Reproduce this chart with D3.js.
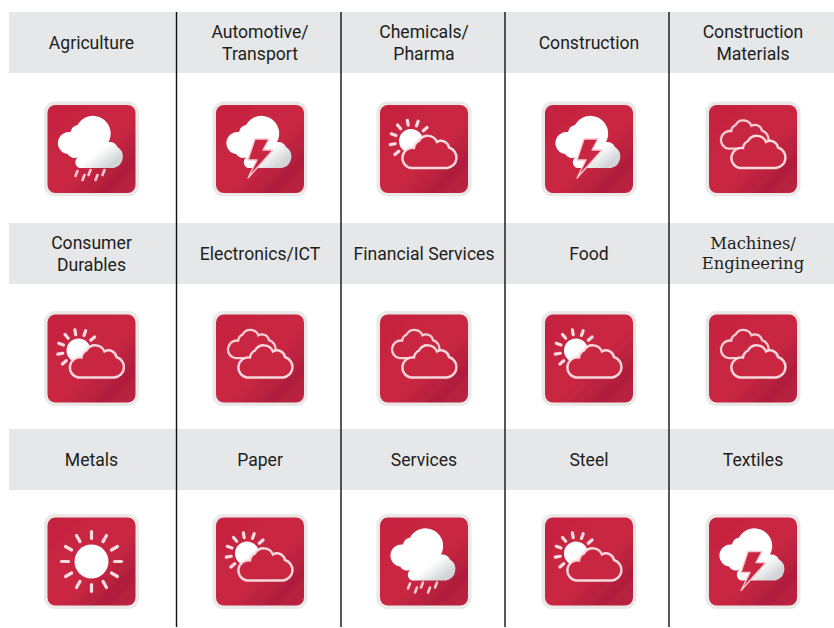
<!DOCTYPE html>
<html lang="en">
<head>
    <meta charset="UTF-8">
    <script src="https://d3js.org/d3.v7.min.js"></script>
    <style>
        html, body { margin: 0; background: #fff; }
        svg { display: block; }
        .label { font-family: Roboto, "Noto Sans", sans-serif; font-size: 17.6px; fill: #1d1d1b; text-anchor: middle; }
        .label.slab { font-family: "DejaVu Serif", serif; font-size: 16.4px; }
    </style>
</head>
<body>
    <svg id="chart"></svg>
    <script>
        // 15 sectors, row by row
        const sectors = [
            "Agriculture", "Automotive/\nTransport", "Chemicals/\nPharma", "Construction", "Construction\nMaterials",
            "Consumer\nDurables", "Electronics/ICT", "Financial Services", "Food", "Machines/\nEngineering",
            "Metals", "Paper", "Services", "Steel", "Textiles"
        ];
        const weather = [
            "rain", "storm", "partly", "storm", "cloudy",
            "partly", "cloudy", "cloudy", "partly", "cloudy",
            "sunny", "partly", "rain", "partly", "storm"
        ];
        const rows = [0, 1, 2];
        const cols = [0, 1, 2, 3, 4];

        const width = 834, height = 628;
        const svg = d3.select("#chart").attr("width", width).attr("height", height);

        // grid scales
        const bandY = d3.scaleOrdinal().domain(rows).range([12, 223, 429]);
        const iconY = d3.scaleOrdinal().domain(rows).range([149, 358.5, 561.5]);
        const iconX = d3.scaleOrdinal().domain(cols).range([91.5, 260, 424, 589, 753]);
        const sepX = d3.scaleOrdinal().domain(cols).range([9, 176.5, 341, 505, 669]);
        const bandH = 61;

        const defs = svg.append("defs");
        const grad = defs.append("linearGradient").attr("id", "red")
            .attr("x1", 0).attr("y1", 0).attr("x2", 1).attr("y2", 1);
        grad.append("stop").attr("offset", "0").attr("stop-color", "#c4223f");
        grad.append("stop").attr("offset", "0.55").attr("stop-color", "#ca2843");
        grad.append("stop").attr("offset", "0.8").attr("stop-color", "#b01e3c");
        grad.append("stop").attr("offset", "1").attr("stop-color", "#bd2442");
        const cloudGrad = defs.append("linearGradient").attr("id", "cloudFill")
            .attr("x1", 0.3).attr("y1", 0.2).attr("x2", 0.9).attr("y2", 0.85);
        cloudGrad.append("stop").attr("offset", "0.65").attr("stop-color", "#ffffff");
        cloudGrad.append("stop").attr("offset", "1").attr("stop-color", "#d3d6d9");
        defs.append("filter").attr("id", "soft")
            .attr("x", "-10%").attr("y", "-10%").attr("width", "120%").attr("height", "120%")
            .append("feGaussianBlur").attr("stdDeviation", 0.7);

        // grey header bands
        svg.selectAll(".band").data(rows).enter().append("rect")
            .attr("class", "band")
            .attr("x", 9).attr("width", width - 9)
            .attr("y", d => bandY(d)).attr("height", bandH)
            .attr("fill", "#e6e7e8");

        // column separators
        svg.selectAll(".sep").data(cols.slice(1)).enter().append("line")
            .attr("class", "sep")
            .attr("x1", d => sepX(d)).attr("x2", d => sepX(d))
            .attr("y1", 12).attr("y2", 627)
            .attr("stroke", "#111").attr("stroke-width", 1.4);

        const cellData = sectors.map((name, i) => ({
            name, sky: weather[i], col: i % 5, row: Math.floor(i / 5)
        }));

        // labels
        svg.selectAll(".label").data(cellData).enter().append("text")
            .attr("class", d => d.name.startsWith("Machines") ? "label slab" : "label")
            .attr("x", d => iconX(d.col))
            .attr("y", d => bandY(d.row) + bandH / 2)
            .each(function(d) {
                const lines = d.name.split("\n");
                d3.select(this).selectAll("tspan").data(lines).enter().append("tspan")
                    .attr("x", iconX(d.col))
                    .attr("dy", (l, i) => i === 0 ? (lines.length === 1 ? "0.35em" : "-0.25em") : "1.22em")
                    .text(l => l);
            });

        // icon shapes, local coords around the icon centre
        const cloudOutline = "M-13 19H23A10.5 10.5 0 0 0 25 -1.5A8 8 0 0 0 13 -7A10 10 0 0 0 -5 -8A9 9 0 0 0 -10 -1A10 10 0 0 0 -13 19Z";
        const cloudSolid = "M-12 19H22A11.5 11.5 0 0 0 26 -2A9 9 0 0 0 17 -7A17 17 0 0 0 -14 -24A9 9 0 0 0 -21 -17A11 11 0 0 0 -24 5A8 8 0 0 0 -13 8A6 6 0 0 0 -12 19Z";
        const bolt = "M-5 -10L9 -10L3 1L13 1L-12 29L-3 11L-12 11Z";
        const rainDrops = [[-14, 25], [-7, 29], [-1, 24], [6, 29], [13, 24]];
        const rayAngles = d3.range(0, 360, 30);

        function rays(g, cx, cy, r0, r1, angles) {
            g.selectAll(".ray").data(angles).enter().append("line")
                .attr("class", "ray")
                .attr("x1", a => cx + r0 * Math.cos(a * Math.PI / 180))
                .attr("y1", a => cy + r0 * Math.sin(a * Math.PI / 180))
                .attr("x2", a => cx + r1 * Math.cos(a * Math.PI / 180))
                .attr("y2", a => cy + r1 * Math.sin(a * Math.PI / 180))
                .attr("stroke", "#f9dcdf").attr("stroke-width", 3.2).attr("stroke-linecap", "round");
        }

        const drawers = {
            sunny(g) {
                g.append("circle").attr("r", 17).attr("fill", "#fff");
                rays(g, 0, 0, 23, 30, rayAngles);
            },
            partly(g) {
                g.append("circle").attr("cx", -13).attr("cy", -8).attr("r", 12).attr("fill", "#fff");
                rays(g, -13, -8, 16, 21, [110, 140, 170, 200, 230, 260, 290, 320]);
                g.append("path").attr("d", cloudOutline).attr("fill", "#c92643")
                    .attr("stroke", "#f9d9dc").attr("stroke-width", 2.4);
            },
            cloudy(g) {
                g.append("path").attr("d", cloudOutline)
                    .attr("transform", "translate(-13,-17) scale(0.88)")
                    .attr("fill", "none").attr("stroke", "#f6cfd3").attr("stroke-width", 2.6);
                g.append("path").attr("d", cloudOutline).attr("fill", "#c92643")
                    .attr("stroke", "#f9d9dc").attr("stroke-width", 2.4);
            },
            rain(g) {
                g.append("path").attr("d", cloudSolid).attr("fill", "url(#cloudFill)");
                g.selectAll(".drop").data(rainDrops).enter().append("line")
                    .attr("class", "drop")
                    .attr("x1", d => d[0]).attr("y1", d => d[1] - 3)
                    .attr("x2", d => d[0] - 2).attr("y2", d => d[1] + 2)
                    .attr("stroke", "#f6c9cf").attr("stroke-width", 2.6).attr("stroke-linecap", "round");
            },
            storm(g) {
                g.append("path").attr("d", cloudSolid).attr("fill", "url(#cloudFill)");
                g.append("path").attr("d", bolt).attr("fill", "#c92643")
                    .attr("stroke", "#f6c9cf").attr("stroke-width", 1.4).attr("stroke-linejoin", "round");
            }
        };

        // icons
        const icons = svg.selectAll(".icon").data(cellData).enter().append("g")
            .attr("class", "icon")
            .attr("filter", "url(#soft)")
            .attr("transform", d => `translate(${iconX(d.col)},${iconY(d.row)})`);

        icons.append("rect")
            .attr("x", -47.5).attr("y", -47.5).attr("width", 95).attr("height", 95).attr("rx", 11)
            .attr("fill", "#ebe8e8");
        icons.append("rect")
            .attr("x", -44).attr("y", -44).attr("width", 88).attr("height", 88).attr("rx", 8)
            .attr("fill", "url(#red)");
        icons.each(function(d) { drawers[d.sky](d3.select(this)); });
    </script>
</body>
</html>
